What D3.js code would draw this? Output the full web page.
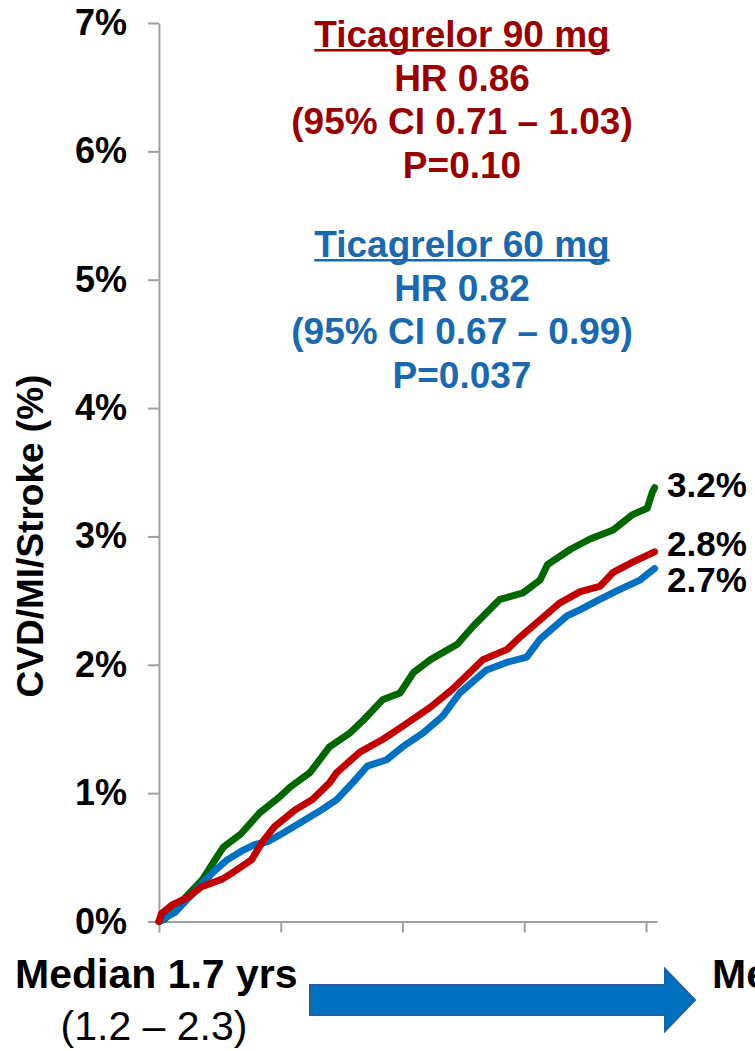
<!DOCTYPE html>
<html>
<head>
<meta charset="utf-8">
<script src="https://cdn.jsdelivr.net/npm/d3@7"></script>
<style>
  html, body { margin: 0; padding: 0; background: #fff; overflow: hidden; }
  svg { display: block; font-family: "Liberation Sans", Arial, sans-serif; }
</style>
</head>
<body>
<svg id="chart" width="755" height="1051"></svg>
<script>
// time in axis-tick units (5 ticks, unlabelled), risk in %
const placebo = [
  [0, 0], [0.05, 0.02], [0.20, 0.17], [0.36, 0.33], [0.46, 0.48], [0.53, 0.58],
  [0.67, 0.68], [0.83, 0.85], [0.99, 0.97], [1.08, 1.05], [1.24, 1.16], [1.40, 1.36],
  [1.57, 1.47], [1.68, 1.57], [1.84, 1.73], [1.98, 1.78], [2.09, 1.94], [2.23, 2.04],
  [2.45, 2.16], [2.58, 2.30], [2.80, 2.51], [2.99, 2.56], [3.13, 2.66], [3.19, 2.78],
  [3.38, 2.90], [3.54, 2.98], [3.73, 3.05], [3.89, 3.17], [4.01, 3.22], [4.05, 3.34],
  [4.07, 3.38]
];
const tica90 = [
  [0, 0], [0.02, 0.06], [0.11, 0.13], [0.24, 0.19], [0.35, 0.27], [0.52, 0.33],
  [0.62, 0.39], [0.76, 0.48], [0.85, 0.62], [0.95, 0.74], [1.12, 0.87], [1.26, 0.95],
  [1.40, 1.08], [1.46, 1.16], [1.65, 1.32], [1.84, 1.42], [2.00, 1.52], [2.23, 1.67],
  [2.41, 1.81], [2.66, 2.04], [2.86, 2.12], [2.97, 2.22], [3.13, 2.35], [3.29, 2.48],
  [3.46, 2.57], [3.62, 2.61], [3.73, 2.72], [3.89, 2.80], [4.07, 2.88]
];
const tica60 = [
  [0, 0], [0.05, 0.03], [0.13, 0.07], [0.25, 0.19], [0.44, 0.38], [0.56, 0.48],
  [0.68, 0.55], [0.79, 0.60], [0.89, 0.62], [1.02, 0.69], [1.16, 0.77], [1.32, 0.86],
  [1.46, 0.95], [1.59, 1.08], [1.71, 1.21], [1.87, 1.26], [2.00, 1.36], [2.17, 1.47],
  [2.33, 1.60], [2.47, 1.78], [2.69, 1.96], [2.86, 2.02], [3.02, 2.06], [3.13, 2.20],
  [3.35, 2.38], [3.46, 2.43], [3.62, 2.51], [3.79, 2.59], [3.95, 2.66], [4.07, 2.75]
];
const yTicks = [0, 1, 2, 3, 4, 5, 6, 7];
const xTicks = [0, 1, 2, 3, 4];
const endLabels = ["3.2%", "2.8%", "2.7%"];
const block90 = ["Ticagrelor 90 mg", "HR 0.86", "(95% CI 0.71 \u2013 1.03)", "P=0.10"];
const block60 = ["Ticagrelor 60 mg", "HR 0.82", "(95% CI 0.67 \u2013 0.99)", "P=0.037"];

const svg = d3.select("#chart");

const x = d3.scaleLinear().domain([-0.09, 4.09]).range([148, 657]);
const y = d3.scaleLinear().domain([0, 7]).range([921.5, 23]);

const axisColor = "#a0a0a0";

// y axis
const yAxis = svg.append("g")
  .attr("transform", "translate(" + x(0) + ",0)")
  .call(d3.axisLeft(y).tickValues(yTicks).tickSize(11).tickSizeOuter(0)
    .tickPadding(21).tickFormat(d => d + "%"));
yAxis.select(".domain").attr("stroke", axisColor).attr("stroke-width", 2);
yAxis.selectAll(".tick line").attr("stroke", axisColor).attr("stroke-width", 2);
yAxis.selectAll(".tick text")
  .attr("fill", "#000").attr("font-size", 36).attr("font-weight", "bold")
  .attr("font-family", "Liberation Sans, Arial, sans-serif");

// x axis
const xAxis = svg.append("g")
  .attr("transform", "translate(0," + y(0) + ")")
  .call(d3.axisBottom(x).tickValues(xTicks).tickSize(11).tickSizeOuter(0).tickFormat(""));
xAxis.select(".domain").attr("stroke", axisColor).attr("stroke-width", 2);
xAxis.selectAll(".tick line").attr("stroke", axisColor).attr("stroke-width", 2);

// y title
svg.append("text")
  .attr("transform", "translate(43,536) rotate(-90)")
  .attr("text-anchor", "middle")
  .attr("font-size", 37).attr("font-weight", "bold")
  .text("CVD/MI/Stroke (%)");

// curves
const line = d3.line().x(d => x(d[0])).y(d => y(d[1]));
const series = [
  { data: placebo, color: "#006600" },
  { data: tica60, color: "#0070c0" },
  { data: tica90, color: "#c00000" }
];
svg.append("g").selectAll("path")
  .data(series)
  .join("path")
  .attr("d", d => line(d.data))
  .attr("fill", "none")
  .attr("stroke", d => d.color)
  .attr("stroke-width", 7)
  .attr("stroke-linejoin", "round")
  .attr("stroke-linecap", "round");

// end labels
const endY = [497, 556, 592];
svg.append("g").selectAll("text")
  .data(endLabels)
  .join("text")
  .attr("x", 667)
  .attr("y", (d, i) => endY[i])
  .attr("font-size", 35).attr("font-weight", "bold")
  .text(d => d);

// HR blocks
function block(lines, top, color) {
  const g = svg.append("g").attr("fill", color)
    .attr("font-size", 37).attr("font-weight", "bold").attr("text-anchor", "middle");
  lines.forEach((t, i) => {
    const txt = g.append("text").attr("x", 462).attr("y", top + i * 43.7).text(t);
    if (i === 0) {
      const w = txt.node().getComputedTextLength();
      g.append("rect").attr("x", 462 - w / 2).attr("y", top + 2)
        .attr("width", w).attr("height", 2.5).attr("fill", color);
    }
  });
}
block(block90, 47, "#990000");
block(block60, 257, "#1c68ae");

// bottom labels
svg.append("text").attr("x", 15).attr("y", 988)
  .attr("font-size", 41).attr("font-weight", "bold")
  .text("Median 1.7 yrs");
svg.append("text").attr("x", 154).attr("y", 1040)
  .attr("text-anchor", "middle").attr("font-size", 41)
  .text("(1.2 \u2013 2.3)");
svg.append("text").attr("x", 712).attr("y", 988)
  .attr("font-size", 41).attr("font-weight", "bold")
  .text("Median");

// arrow
const ax0 = 310, ax1 = 665, tip = 695, cy = 1000, sh = 15, hh = 31;
svg.append("path")
  .attr("d", "M" + ax0 + "," + (cy - sh) + "H" + ax1 + "V" + (cy - hh) + "L" + tip + "," + cy +
    "L" + ax1 + "," + (cy + hh) + "V" + (cy + sh) + "H" + ax0 + "Z")
  .attr("fill", "#0070c0")
  .attr("stroke", "#1f5f9f")
  .attr("stroke-width", 2);
</script>
</body>
</html>
